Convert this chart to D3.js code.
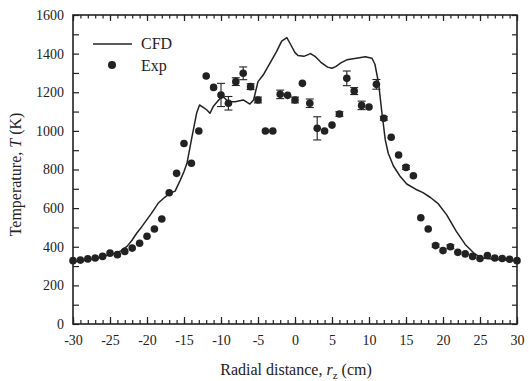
<!DOCTYPE html>
<html>
<head>
<meta charset="utf-8">
<script src="https://cdn.jsdelivr.net/npm/d3@7"></script>
<style>
  body { margin: 0; background: #fff; }
</style>
</head>
<body>
<div id="chart"></div>
<script>
// measured points (Exp), one per cm
const expX = d3.range(-30, 31);
const expT = [328, 331, 337, 342, 350, 367, 359, 376, 393, 418,
              454, 492, 544, 680, 780, 935, 832, 999, 1284, 1225,
              1186, 1143, 1255, 1298, 1229, 1160, 999, 999, 1189, 1184,
              1160, 1246, 1143, 1013, 999, 1030, 1087, 1272, 1206, 1132,
              1124, 1241, 1065, 967, 875, 811, 768, 550, 492, 406,
              380, 400, 371, 363, 350, 339, 355, 342, 339, 335, 328];
// error bar half-heights, 0 = no bar
const expErr = [0, 0, 0, 0, 0, 0, 0, 0, 0, 0,
                0, 0, 0, 0, 0, 0, 0, 0, 0, 0,
                60, 35, 20, 33, 15, 15, 0, 0, 22, 0,
                15, 0, 22, 60, 0, 0, 12, 38, 18, 22,
                0, 25, 10, 0, 0, 10, 0, 0, 0, 8,
                0, 10, 0, 0, 0, 0, 0, 0, 0, 0, 0];

// CFD profile
const cfdX = [-30, -28, -26, -25, -24, -23.5, -22.7, -22, -21.4, -20.7, -19.4, -18.5, -17.6, -16.9,
              -16.2, -15.5, -15, -14.6, -14, -13.3, -12.9, -12.4, -11.9, -11.5, -11, -10.1, -9.7,
              -9, -8.1, -7, -6.1, -5.6, -5, -4.3, -3.4, -2.5, -1.8, -1.1, -0.7, 0, 0.4, 1.2,
              2.1, 2.7, 3.5, 4.4, 5, 5.5, 6.2, 7, 8.3, 9.5, 10.4, 10.8, 11.3, 11.7, 12.2, 12.6,
              13.3, 14.2, 15.1, 16.3, 17.3, 18.3, 19.3, 20.5, 21.8, 23, 24.2, 25.2, 27, 30];
const cfdT = [322, 332, 348, 360, 368, 380, 402, 435, 470, 504, 573, 625, 656, 677,
              688, 745, 790, 832, 953, 1091, 1134, 1122, 1108, 1091, 1129, 1169, 1177,
              1151, 1151, 1160, 1139, 1160, 1255, 1289, 1350, 1410, 1465, 1483, 1455, 1405, 1390, 1386,
              1400, 1386, 1355, 1330, 1324, 1333, 1352, 1368, 1376, 1384, 1376, 1345, 1246, 1108, 953, 884,
              818, 765, 725, 698, 680, 655, 625, 565, 480, 412, 366, 342, 335, 328];

const xTicks = [-30, -25, -20, -15, -10, -5, 0, 5, 10, 15, 20, 25, 30];
const yTicks = [0, 200, 400, 600, 800, 1000, 1200, 1400, 1600];

const W = 529, H = 381;
const mLeft = 73, mRight = 517, mTop = 15, mBottom = 324;
const ink = "#222";
const serif = "'Liberation Serif', 'Times New Roman', 'DejaVu Serif', serif";

const svg = d3.select("#chart").append("svg")
  .attr("width", W).attr("height", H);

const x = d3.scaleLinear().domain([-30, 30]).range([mLeft, mRight]);
const y = d3.scaleLinear().domain([0, 1600]).range([mBottom, mTop]);

// axes: ticks point inward
const minorX = d3.range(-30, 31);
const minorY = d3.range(0, 1601, 100);

svg.append("g")
  .attr("transform", "translate(0," + mBottom + ")")
  .call(d3.axisTop(x).tickValues(minorX).tickSize(4).tickFormat(""))
  .call(g => g.select(".domain").remove());
svg.append("g")
  .attr("transform", "translate(0," + mBottom + ")")
  .call(d3.axisTop(x).tickValues(xTicks).tickSize(7).tickFormat(""))
  .call(g => g.select(".domain").remove());
svg.append("g")
  .attr("transform", "translate(0," + mBottom + ")")
  .call(d3.axisBottom(x).tickValues(xTicks).tickSize(0).tickPadding(11).tickFormat(d => String(d)))
  .call(g => g.select(".domain").remove());

svg.append("g")
  .attr("transform", "translate(0," + mTop + ")")
  .call(d3.axisBottom(x).tickValues(minorX).tickSize(3.5).tickFormat(""))
  .call(g => g.select(".domain").remove());
svg.append("g")
  .attr("transform", "translate(0," + mTop + ")")
  .call(d3.axisBottom(x).tickValues(xTicks).tickSize(6).tickFormat(""))
  .call(g => g.select(".domain").remove());

svg.append("g")
  .attr("transform", "translate(" + mLeft + ",0)")
  .call(d3.axisRight(y).tickValues(minorY).tickSize(6).tickFormat(""))
  .call(g => g.select(".domain").remove());
svg.append("g")
  .attr("transform", "translate(" + mLeft + ",0)")
  .call(d3.axisLeft(y).tickValues(yTicks).tickSize(0).tickPadding(9).tickFormat(d => String(d)))
  .call(g => g.select(".domain").remove());

svg.append("g")
  .attr("transform", "translate(" + mRight + ",0)")
  .call(d3.axisLeft(y).tickValues(minorY).tickSize(5).tickFormat(""))
  .call(g => g.select(".domain").remove());

svg.selectAll(".tick line").attr("stroke", ink).attr("stroke-width", 1.2);
svg.selectAll(".tick text").attr("fill", ink)
  .style("font-family", serif).style("font-size", "14px");

svg.append("rect")
  .attr("x", mLeft).attr("y", mTop)
  .attr("width", mRight - mLeft).attr("height", mBottom - mTop)
  .attr("fill", "none").attr("stroke", ink).attr("stroke-width", 1.6);

// CFD line
const line = d3.line().x((d, i) => x(cfdX[i])).y(d => y(d));
svg.append("path")
  .datum(cfdT)
  .attr("d", line)
  .attr("fill", "none").attr("stroke", ink).attr("stroke-width", 1.5)
  .attr("stroke-linejoin", "round");

// error bars
const errs = expX.map((v, i) => ({x: v, t: expT[i], e: expErr[i]})).filter(d => d.e > 0);
const eb = svg.append("g").attr("stroke", ink).attr("stroke-width", 1.1);
errs.forEach(d => {
  eb.append("line").attr("x1", x(d.x)).attr("x2", x(d.x))
    .attr("y1", y(d.t - d.e)).attr("y2", y(d.t + d.e));
  [d.t - d.e, d.t + d.e].forEach(v => {
    eb.append("line").attr("x1", x(d.x) - 4).attr("x2", x(d.x) + 4)
      .attr("y1", y(v)).attr("y2", y(v));
  });
});

// Exp points
svg.append("g").selectAll("circle")
  .data(expT)
  .enter().append("circle")
  .attr("cx", (d, i) => x(expX[i]))
  .attr("cy", d => y(d))
  .attr("r", 3.8)
  .attr("fill", ink);

// legend
const label = (xp, yp) => svg.append("text").attr("x", xp).attr("y", yp)
  .attr("fill", ink).style("font-family", serif).style("font-size", "16px");
svg.append("line").attr("x1", 93).attr("x2", 132).attr("y1", 44).attr("y2", 44)
  .attr("stroke", ink).attr("stroke-width", 1.5);
label(141, 49).text("CFD");
svg.append("circle").attr("cx", 112).attr("cy", 65).attr("r", 4).attr("fill", ink);
label(141, 71).text("Exp");

// axis titles
const xt = label((mLeft + mRight) / 2 + 1, 375).attr("text-anchor", "middle");
xt.append("tspan").text("Radial distance, ");
xt.append("tspan").style("font-style", "italic").text("r");
xt.append("tspan").attr("dy", 4).style("font-size", "11px").text("z");
xt.append("tspan").attr("dy", -4).text(" (cm)");

const yt = label(0, 0)
  .attr("transform", "translate(21," + ((mTop + mBottom) / 2 + 5) + ") rotate(-90)")
  .attr("text-anchor", "middle");
yt.append("tspan").text("Temperature, ");
yt.append("tspan").style("font-style", "italic").text("T");
yt.append("tspan").text(" (K)");
</script>
</body>
</html>
